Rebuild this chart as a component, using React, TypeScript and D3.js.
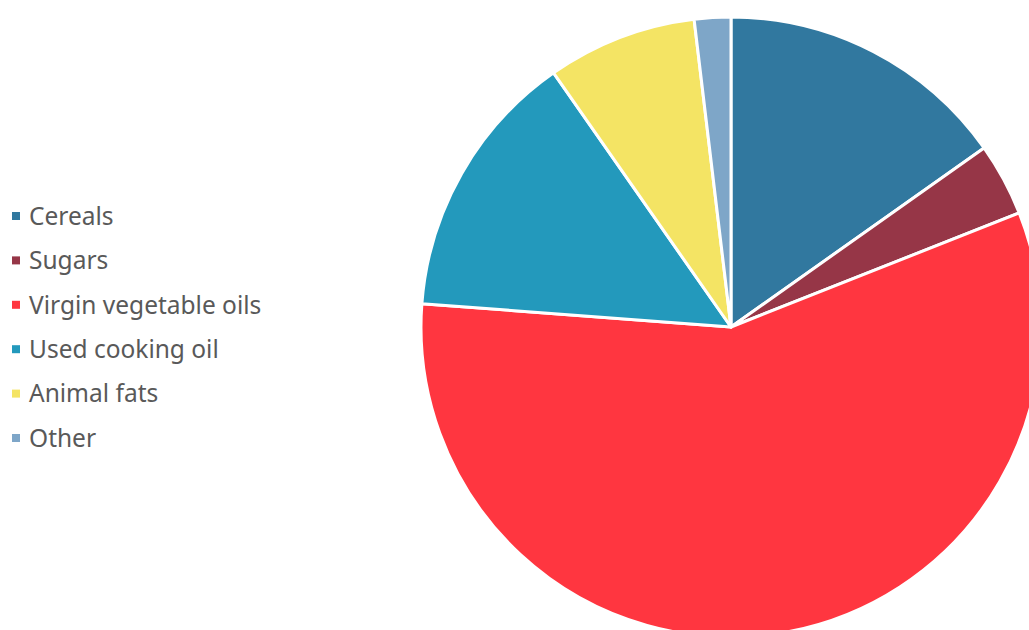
import React from "react";
import * as d3 from "d3";

const categories = ["Cereals", "Sugars", "Virgin vegetable oils", "Used cooking oil", "Animal fats", "Other"];
const values = [15.2, 3.8, 57.2, 14.1, 7.8, 1.9];
const colors = ["#31789F", "#963647", "#FF3640", "#2399BC", "#F4E464", "#7EA6C8"];

const W = 1029;
const H = 630;
const cx = 731;
const cy = 327;
const R = 310;

export default function App() {
  const pie = d3.pie<number>().value((d) => d).sort(null);
  const arcs = pie(values);
  const arc = d3.arc<d3.PieArcDatum<number>>().innerRadius(0).outerRadius(R);
  const legendY = d3.scaleLinear().domain([0, categories.length - 1]).range([216, 438]);
  return (
    <svg width={W} height={H} style={{ position: "absolute", left: 0, top: 0 }}>
      <rect width={W} height={H} fill="#ffffff" />
      <g transform={`translate(${cx},${cy})`}>
        {arcs.map((a, i) => (
          <path key={i} d={arc(a) || ""} fill={colors[i]} stroke="#ffffff" strokeWidth={3} strokeLinejoin="round" />
        ))}
      </g>
      <g>
        {categories.map((c, i) => (
          <g key={c} transform={`translate(0,${legendY(i)})`}>
            <rect x={12} y={-4} width={8} height={8} fill={colors[i]} />
            <text x={29} y={0} dy="0.36em" fontFamily="'Noto Sans', sans-serif" fontSize={24.5} fill="#595959">
              {c}
            </text>
          </g>
        ))}
      </g>
    </svg>
  );
}
